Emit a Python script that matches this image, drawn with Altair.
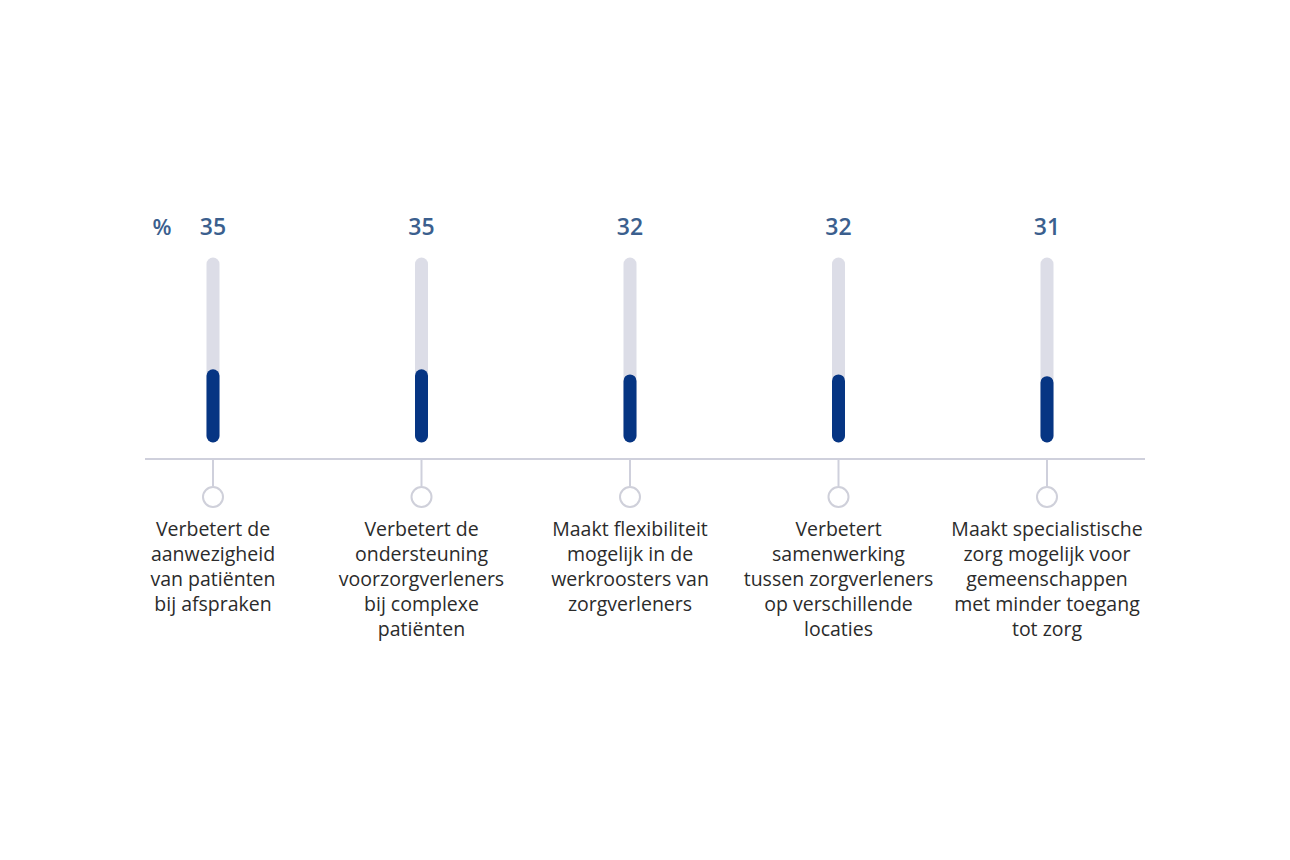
import altair as alt
import pandas as pd

categories = ["A", "B", "C", "D", "E"]
values = [35, 35, 32, 32, 31]
labels = [
    "Verbetert de\naanwezigheid\nvan patiënten\nbij afspraken",
    "Verbetert de\nondersteuning\nvoorzorgverleners\nbij complexe\npatiënten",
    "Maakt flexibiliteit\nmogelijk in de\nwerkroosters van\nzorgverleners",
    "Verbetert\nsamenwerking\ntussen zorgverleners\nop verschillende\nlocaties",
    "Maakt specialistische\nzorg mogelijk voor\ngemeenschappen\nmet minder toegang\ntot zorg",
]
track_max = 100

df = pd.DataFrame({
    "cat": categories,
    "value": values,
    "label": labels,
    "zero": [0] * len(categories),
    "full": [track_max] * len(categories),
})

x = alt.X("cat:N", sort=None, axis=None,
          scale=alt.Scale(type="point", padding=0))
y_scale = alt.Scale(domain=[0, track_max])

base = alt.Chart(df)

track = base.mark_rule(strokeWidth=13, strokeCap="round", color="#dcdde7").encode(
    x=x,
    y=alt.Y("zero:Q", scale=y_scale, axis=None),
    y2="full:Q",
)

bars = base.mark_rule(strokeWidth=13, strokeCap="round", color="#063583").encode(
    x=x,
    y=alt.Y("zero:Q", scale=y_scale, axis=None),
    y2="value:Q",
)

value_text = base.mark_text(
    font="Open Sans", fontSize=23, fontWeight=600, color="#3b5f8e", baseline="middle"
).encode(x=x, y=alt.value(-36), text="value:Q")

pct = alt.Chart(pd.DataFrame({"t": ["%"]})).mark_text(
    font="Open Sans", fontSize=22, fontWeight=600, color="#3b5f8e", baseline="middle"
).encode(x=alt.value(-51), y=alt.value(-36), text="t:N")

baseline = alt.Chart(pd.DataFrame({"t": [0]})).mark_rule(
    color="#cfd0dc", strokeWidth=2
).encode(x=alt.value(-68), x2=alt.value(932), y=alt.value(195))

ticks = base.mark_rule(color="#cfd0dc", strokeWidth=2).encode(
    x=x, y=alt.value(195), y2=alt.value(222)
)

circles = base.mark_point(
    shape="circle", size=400, filled=False, fill="white", stroke="#cfd0da", strokeWidth=2, opacity=1
).encode(x=x, y=alt.value(233))

cat_text = base.mark_text(
    font="Open Sans", fontSize=19.5, color="#2b2b2b", baseline="top",
    lineBreak="\n", lineHeight=25, align="center"
).encode(x=x, y=alt.value(257), text="label:N")

chart = (
    alt.layer(track, bars, baseline, ticks, circles, value_text, pct, cat_text)
    .properties(
        width=834,
        height=172,
        autosize=alt.AutoSizeParams(type="none"),
        padding={"left": 205, "top": 256, "right": 130, "bottom": 220},
    )
    .configure_view(stroke=None)
)

chart.save("out.html", embed_options={"renderer": "svg", "actions": False})
